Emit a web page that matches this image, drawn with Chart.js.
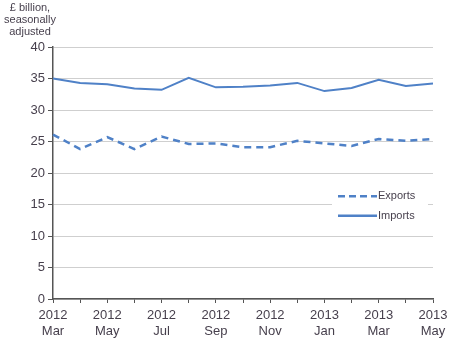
<!DOCTYPE html>
<html>
<head>
<meta charset="utf-8">
<script src="https://cdn.jsdelivr.net/npm/chart.js@4/dist/chart.umd.min.js"></script>
<style>
	html, body { margin: 0; padding: 0; background: #fff; }
	#wrap { width: 460px; height: 349px; }
</style>
</head>
<body>
<div id="wrap"><canvas id="trade"></canvas></div>
<script>
const months = ["Mar", "Apr", "May", "Jun", "Jul", "Aug", "Sep", "Oct", "Nov", "Dec", "Jan", "Feb", "Mar", "Apr", "May"]
const years = ["2012", "2012", "2012", "2012", "2012", "2012", "2012", "2012", "2012", "2012", "2013", "2013", "2013", "2013", "2013"]
const exportsData = [26.1, 23.8, 25.7, 23.8, 25.8, 24.6, 24.7, 24.1, 24.1, 25.1, 24.7, 24.3, 25.4, 25.1, 25.4]
const importsData = [35.0, 34.3, 34.1, 33.4, 33.2, 35.1, 33.6, 33.7, 33.9, 34.3, 33.0, 33.5, 34.8, 33.8, 34.2]
const yTicks = [0, 5, 10, 15, 20, 25, 30, 35, 40]
const unitLabel = ["£ billion,", "seasonally", "adjusted"]

const blue = "#4f81c7"
const textColor = "#463f4c"

// unit label in top left + legend inside the plot
const extras = {
	id: "extras",
	afterDraw(chart) {
		const ctx = chart.ctx
		ctx.save()
		ctx.fillStyle = textColor
		ctx.font = "11px 'Liberation Sans', Arial, sans-serif"
		ctx.textAlign = "center"
		ctx.textBaseline = "middle"
		unitLabel.forEach((t, i) => ctx.fillText(t, 30, 8 + i * 12))

		const y = chart.scales.y
		const top = y.getPixelForValue(19)
		ctx.fillStyle = "#fff"
		ctx.fillRect(332, top, 96, y.getPixelForValue(13) - top)
		const rows = [
			{ label: "Exports", dash: [7, 4], v: 16.3 },
			{ label: "Imports", dash: [], v: 13.2 }
		]
		ctx.font = "11px 'Liberation Sans', Arial, sans-serif"
		ctx.textAlign = "left"
		rows.forEach(r => {
			const py = y.getPixelForValue(r.v)
			ctx.strokeStyle = blue
			ctx.lineWidth = 2.5
			ctx.setLineDash(r.dash)
			ctx.beginPath()
			ctx.moveTo(338, py)
			ctx.lineTo(377, py)
			ctx.stroke()
			ctx.setLineDash([])
			ctx.fillStyle = textColor
			ctx.fillText(r.label, 378, py)
		})
		ctx.restore()
	}
}

new Chart(document.getElementById("trade").getContext("2d"), {
	type: "line",
	data: {
		labels: months.map((m, i) => [years[i], m]),
		datasets: [
			{
				label: "Exports",
				data: exportsData,
				borderColor: blue,
				borderWidth: 2.5,
				borderDash: [7, 5],
				pointRadius: 0,
				tension: 0
			},
			{
				label: "Imports",
				data: importsData,
				borderColor: blue,
				borderWidth: 2,
				pointRadius: 0,
				tension: 0
			}
		]
	},
	options: {
		responsive: true,
		maintainAspectRatio: false,
		animation: false,
		layout: {
			padding: { top: 47, right: 27, left: 0, bottom: 0 }
		},
		scales: {
			y: {
				min: 0,
				max: 40,
				afterFit: s => { s.width = 53 },
				afterBuildTicks: s => { s.ticks = yTicks.map(v => ({ value: v })) },
				ticks: {
					color: textColor,
					padding: 3,
					font: { family: "'Liberation Sans', Arial, sans-serif", size: 13 }
				},
				grid: {
					color: "#cfcfcf",
					tickColor: "#555",
					tickLength: 5,
					lineWidth: 1
				},
				border: { color: "#555", width: 1.5 }
			},
			x: {
				offset: false,
				afterFit: s => { s.height = 50 },
				ticks: {
					color: textColor,
					maxRotation: 0,
					autoSkip: false,
					padding: 4,
					font: { family: "'Liberation Sans', Arial, sans-serif", size: 13, lineHeight: 1.25 },
					callback: function (v, i) { return i % 2 === 0 ? this.getLabelForValue(v) : "" }
				},
				grid: {
					drawOnChartArea: false,
					tickColor: "#555",
					tickLength: 4
				},
				border: { color: "#555", width: 1.5 }
			}
		},
		plugins: {
			legend: { display: false },
			tooltip: { enabled: false }
		}
	},
	plugins: [extras]
})
</script>
</body>
</html>
